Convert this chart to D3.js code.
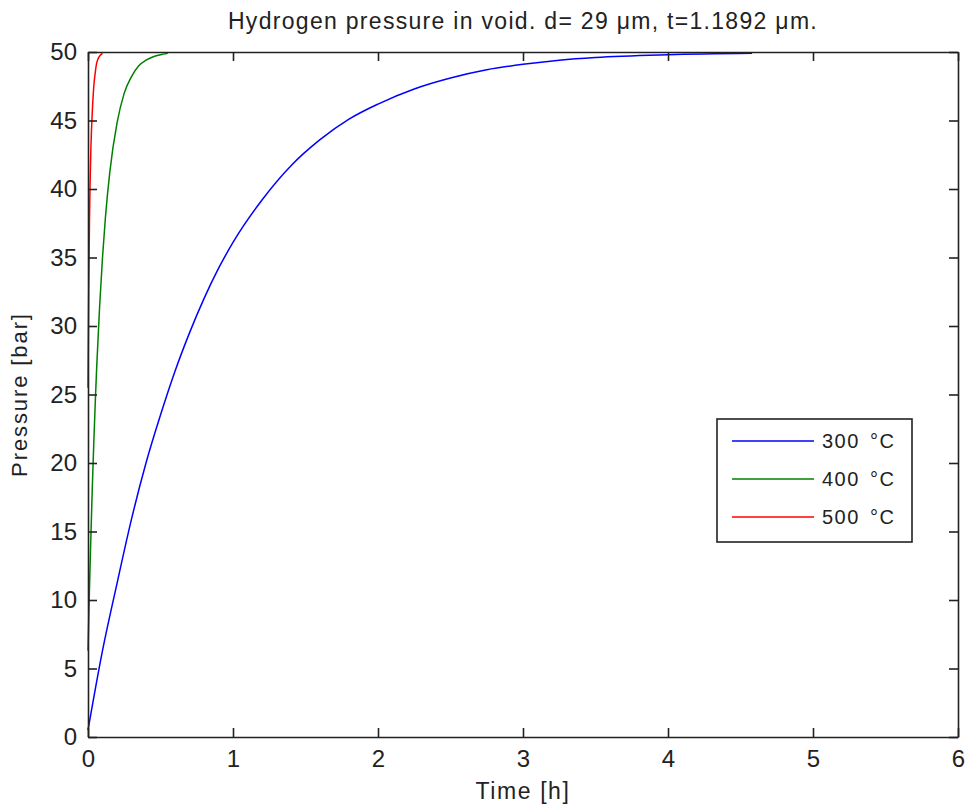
<!DOCTYPE html>
<html>
<head>
<meta charset="utf-8">
<script src="https://cdn.jsdelivr.net/npm/d3@7"></script>
<style>
  body { margin: 0; background: #fff; }
  text { font-family: "Liberation Sans", Arial, sans-serif; fill: #222; }
</style>
</head>
<body>
<div id="chart"></div>
<script>
// values
const t300 = [0, 0.1, 0.2, 0.3, 0.4, 0.5, 0.6, 0.7, 0.8, 0.9, 1.0, 1.2, 1.4, 1.6, 1.8, 2.0, 2.25, 2.5, 2.75, 3.0, 3.25, 3.5, 4.0, 4.58];
const p300 = [0.5, 6.3, 11.2, 15.9, 20.0, 23.5, 26.7, 29.5, 32.0, 34.2, 36.1, 39.2, 41.7, 43.6, 45.1, 46.2, 47.3, 48.1, 48.7, 49.1, 49.4, 49.6, 49.8, 49.9];

const t400 = [0, 0.01, 0.02, 0.03, 0.04, 0.05, 0.06, 0.08, 0.1, 0.12, 0.15, 0.2, 0.25, 0.3, 0.35, 0.4, 0.45, 0.5, 0.55];
const p400 = [6.3, 10.8, 14.7, 18.3, 21.5, 24.4, 27.0, 31.4, 35.0, 37.9, 41.2, 44.8, 47.0, 48.2, 49.0, 49.4, 49.65, 49.8, 49.9];

const t500 = [0, 0.005, 0.01, 0.02, 0.03, 0.04, 0.05, 0.06, 0.08, 0.1];
const p500 = [25.5, 32.5, 37.5, 43.0, 45.7, 47.5, 48.5, 49.2, 49.7, 49.9];

const seriesNames = ['300 °C', '400 °C', '500 °C'];
const seriesColors = ['#0000ff', '#008000', '#ff0000'];
const xTicks = [0, 1, 2, 3, 4, 5, 6];
const yTicks = [0, 5, 10, 15, 20, 25, 30, 35, 40, 45, 50];

const series = [
  { name: seriesNames[0], color: seriesColors[0], pts: t300.map((t, i) => [t, p300[i]]) },
  { name: seriesNames[1], color: seriesColors[1], pts: t400.map((t, i) => [t, p400[i]]) },
  { name: seriesNames[2], color: seriesColors[2], pts: t500.map((t, i) => [t, p500[i]]) }
];

const W = 967, H = 810;
const margin = { left: 88, right: 9, top: 52, bottom: 73 };

const svg = d3.select('#chart')
  .append('svg')
  .attr('width', W)
  .attr('height', H);

const x = d3.scaleLinear().domain([0, 6]).range([margin.left, W - margin.right]);
const y = d3.scaleLinear().domain([0, 50]).range([H - margin.bottom, margin.top]);

// curves
const line = d3.line().x(d => x(d[0])).y(d => y(d[1])).curve(d3.curveMonotoneX);
svg.selectAll('.curve')
  .data(series)
  .enter()
  .append('path')
  .attr('class', 'curve')
  .attr('d', d => line(d.pts))
  .attr('fill', 'none')
  .attr('stroke', d => d.color)
  .attr('stroke-width', 1.5);

// axes, ticks inside, box like matlab
const tickLen = 9;
const axBottom = svg.append('g').attr('transform', `translate(0,${y(0)})`)
  .call(d3.axisBottom(x).tickValues(xTicks).tickFormat(d3.format('d')).tickSizeInner(-tickLen).tickSizeOuter(0).tickPadding(13));
const axTop = svg.append('g').attr('transform', `translate(0,${y(50)})`)
  .call(d3.axisTop(x).tickValues(xTicks).tickSizeInner(-tickLen).tickSizeOuter(0).tickFormat(''));
const axLeft = svg.append('g').attr('transform', `translate(${x(0)},0)`)
  .call(d3.axisLeft(y).tickValues(yTicks).tickSizeInner(-tickLen).tickSizeOuter(0).tickPadding(11));
const axRight = svg.append('g').attr('transform', `translate(${x(6)},0)`)
  .call(d3.axisRight(y).tickValues(yTicks).tickSizeInner(-tickLen).tickSizeOuter(0).tickFormat(''));

[axBottom, axTop, axLeft, axRight].forEach(g => {
  g.select('.domain').attr('stroke', '#222').attr('stroke-width', 1.6);
  g.selectAll('.tick line').attr('stroke', '#222').attr('stroke-width', 1.6);
  g.selectAll('.tick text')
    .style('font-family', '"Liberation Sans", Arial, sans-serif')
    .style('font-size', '24px')
    .attr('fill', '#222');
});

// titles
svg.append('text')
  .attr('x', (x(0) + x(6)) / 2)
  .attr('y', 29)
  .attr('text-anchor', 'middle')
  .style('font-size', '23px')
  .style('letter-spacing', '1.3px')
  .text('Hydrogen pressure in void. d= 29 μm, t=1.1892 μm.');

svg.append('text')
  .attr('x', (x(0) + x(6)) / 2)
  .attr('y', 799)
  .attr('text-anchor', 'middle')
  .style('font-size', '23px')
  .style('letter-spacing', '1.6px')
  .text('Time [h]');

svg.append('text')
  .attr('transform', `translate(27,${(y(0) + y(50)) / 2}) rotate(-90)`)
  .attr('text-anchor', 'middle')
  .style('font-size', '22px')
  .style('letter-spacing', '1.9px')
  .text('Pressure [bar]');

// legend
const legend = svg.append('g').attr('transform', 'translate(717,419)');
legend.append('rect')
  .attr('width', 195)
  .attr('height', 123)
  .attr('fill', '#fff')
  .attr('stroke', '#222')
  .attr('stroke-width', 1.6);

const item = legend.selectAll('.item')
  .data(series)
  .enter()
  .append('g')
  .attr('class', 'item')
  .attr('transform', (d, i) => `translate(0,${22 + i * 38})`);

item.append('line')
  .attr('x1', 15).attr('x2', 97)
  .attr('stroke', d => d.color)
  .attr('stroke-width', 1.5);

item.append('text')
  .attr('x', 105)
  .attr('y', 7)
  .style('font-size', '20px')
  .style('letter-spacing', '1.5px')
  .attr('word-spacing', '3')
  .text(d => d.name);
</script>
</body>
</html>
